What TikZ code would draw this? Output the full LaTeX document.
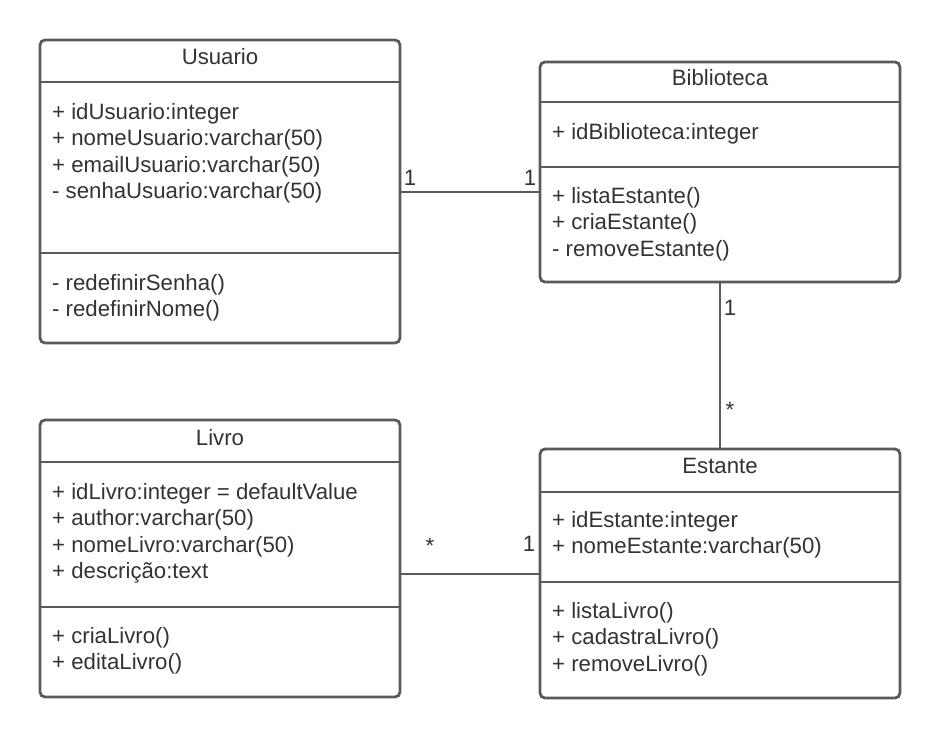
\documentclass[tikz,border=0pt]{standalone}
\usepackage{fontspec}
\setmainfont{Liberation Sans}
\usepackage{tikz}
\usetikzlibrary{positioning,calc}
\definecolor{linegray}{HTML}{5A5A5A}
\definecolor{textgray}{HTML}{333333}

\begin{document}
\begin{tikzpicture}[x=1pt, y=-1pt,
    classbox/.style={draw=linegray, line width=2.8pt, rounded corners=5pt, fill=white, inner sep=0pt, outer sep=0pt, anchor=north west},
    divider/.style={draw=linegray, line width=2.8pt},
    assoc/.style={draw=linegray, line width=2pt},
    title/.style={font=\fontsize{22.2}{26.5}\selectfont, text=textgray, anchor=base, inner sep=0pt},
    member/.style={font=\fontsize{22.2}{26.5}\selectfont, text=textgray, anchor=base west, inner sep=0pt},
    mult/.style={font=\fontsize{22.2}{26.5}\selectfont, text=textgray, anchor=base, inner sep=0pt}]
    \useasboundingbox (0,0) rectangle (940,739);

    % Usuario
    \node[classbox, minimum width=360pt, minimum height=303pt] (usuario) at (40,40) {};
    \draw[divider] (40,82) -- (400,82);
    \draw[divider] (40,253) -- (400,253);
    \node[title] (usu-t) at (220,64) {Usuario};
    \node[member] (usu-a1) at (52,119) {+ idUsuario:integer};
    \node[member] (usu-a2) at (52,145.5) {+ nomeUsuario:varchar(50)};
    \node[member] (usu-a3) at (52,172) {+ emailUsuario:varchar(50)};
    \node[member] (usu-a4) at (52,198.5) {- senhaUsuario:varchar(50)};
    \node[member] (usu-m1) at (52,290) {- redefinirSenha()};
    \node[member] (usu-m2) at (52,316.5) {- redefinirNome()};

    % Biblioteca
    \node[classbox, minimum width=360pt, minimum height=220pt] (biblioteca) at (540,62) {};
    \draw[divider] (540,102) -- (900,102);
    \draw[divider] (540,167) -- (900,167);
    \node[title] (bib-t) at (720,85) {Biblioteca};
    \node[member] (bib-a1) at (552,139) {+ idBiblioteca:integer};
    \node[member] (bib-m1) at (552,203) {+ listaEstante()};
    \node[member] (bib-m2) at (552,229.5) {+ criaEstante()};
    \node[member] (bib-m3) at (552,256) {- removeEstante()};

    % Livro
    \node[classbox, minimum width=360pt, minimum height=277pt] (livro) at (40,420) {};
    \draw[divider] (40,462) -- (400,462);
    \draw[divider] (40,607) -- (400,607);
    \node[title] (liv-t) at (220,445) {Livro};
    \node[member] (liv-a1) at (52,499) {+ idLivro:integer = defaultValue};
    \node[member] (liv-a2) at (52,525.5) {+ author:varchar(50)};
    \node[member] (liv-a3) at (52,552) {+ nomeLivro:varchar(50)};
    \node[member] (liv-a4) at (52,578.5) {+ descrição:text};
    \node[member] (liv-m1) at (52,643) {+ criaLivro()};
    \node[member] (liv-m2) at (52,669.5) {+ editaLivro()};

    % Estante
    \node[classbox, minimum width=360pt, minimum height=249pt] (estante) at (540,449) {};
    \draw[divider] (540,492) -- (900,492);
    \draw[divider] (540,582) -- (900,582);
    \node[title] (est-t) at (720,473) {Estante};
    \node[member] (est-a1) at (552,527) {+ idEstante:integer};
    \node[member] (est-a2) at (552,553.5) {+ nomeEstante:varchar(50)};
    \node[member] (est-m1) at (552,618) {+ listaLivro()};
    \node[member] (est-m2) at (552,644.5) {+ cadastraLivro()};
    \node[member] (est-m3) at (552,671) {+ removeLivro()};

    % Associations
    \draw[assoc] (usuario.east) -- (usuario.east -| biblioteca.west);
    \draw[assoc] (biblioteca.south) -- (estante.north);
    \draw[assoc] (estante.west -| livro.east) -- (estante.west);

    % Multiplicities
    \node[mult] (usu-n) at (410,185.5) {1}; \node[mult] (bib-n) at (530,185.5) {1};
    \node[mult] (bib-s) at (730,315.5) {1}; \node[mult] (est-n) at (730,417) {*};
    \node[mult] (liv-e) at (430,553) {*}; \node[mult] (est-w) at (529,551.5) {1};
\end{tikzpicture}
\end{document}
